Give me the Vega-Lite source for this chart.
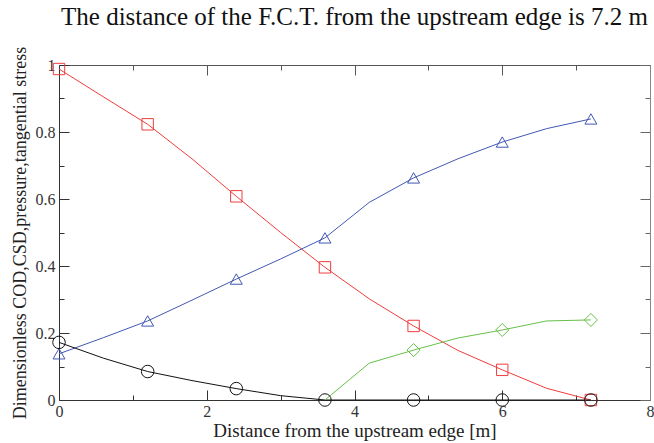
{
  "$schema": "https://vega.github.io/schema/vega-lite/v6.json",
  "autosize": "none",
  "width": 591,
  "height": 335,
  "padding": {"left": 59, "top": 65, "right": 4, "bottom": 43},
  "background": "white",
  "title": {
    "text": "The distance of the F.C.T. from the upstream edge is 7.2 m",
    "font": "Liberation Serif",
    "fontSize": 25,
    "fontWeight": "normal",
    "color": "#111",
    "anchor": "middle",
    "baseline": "alphabetic",
    "offset": -4
  },
  "config": {
    "view": {"stroke": null},
    "title": {"font": "Liberation Serif"},
    "axis": {
      "labelFont": "Liberation Serif",
      "titleFont": "Liberation Serif",
      "labelFontSize": 16,
      "titleFontWeight": "normal",
      "titleColor": "#222",
      "labelColor": "#333",
      "grid": false,
      "domainColor": "#333",
      "tickColor": "#333"
    }
  },
  "data": {
    "values": [
      {"s": "pressure", "x": 0.0, "y": 0.988, "m": 1},
      {"s": "pressure", "x": 0.6, "y": 0.905, "m": 0},
      {"s": "pressure", "x": 1.2, "y": 0.823, "m": 1},
      {"s": "pressure", "x": 1.8, "y": 0.72, "m": 0},
      {"s": "pressure", "x": 2.4, "y": 0.608, "m": 1},
      {"s": "pressure", "x": 3.0, "y": 0.5, "m": 0},
      {"s": "pressure", "x": 3.6, "y": 0.396, "m": 1},
      {"s": "pressure", "x": 4.2, "y": 0.302, "m": 0},
      {"s": "pressure", "x": 4.8, "y": 0.221, "m": 1},
      {"s": "pressure", "x": 5.4, "y": 0.148, "m": 0},
      {"s": "pressure", "x": 6.0, "y": 0.09, "m": 1},
      {"s": "pressure", "x": 6.6, "y": 0.035, "m": 0},
      {"s": "pressure", "x": 7.2, "y": 0.0, "m": 1},
      {"s": "stress", "x": 0.0, "y": 0.138, "m": 1},
      {"s": "stress", "x": 0.6, "y": 0.186, "m": 0},
      {"s": "stress", "x": 1.2, "y": 0.236, "m": 1},
      {"s": "stress", "x": 1.8, "y": 0.298, "m": 0},
      {"s": "stress", "x": 2.4, "y": 0.361, "m": 1},
      {"s": "stress", "x": 3.0, "y": 0.421, "m": 0},
      {"s": "stress", "x": 3.6, "y": 0.484, "m": 1},
      {"s": "stress", "x": 4.2, "y": 0.59, "m": 0},
      {"s": "stress", "x": 4.8, "y": 0.663, "m": 1},
      {"s": "stress", "x": 5.4, "y": 0.72, "m": 0},
      {"s": "stress", "x": 6.0, "y": 0.77, "m": 1},
      {"s": "stress", "x": 6.6, "y": 0.81, "m": 0},
      {"s": "stress", "x": 7.2, "y": 0.839, "m": 1},
      {"s": "COD", "x": 0.0, "y": 0.172, "m": 1},
      {"s": "COD", "x": 0.6, "y": 0.125, "m": 0},
      {"s": "COD", "x": 1.2, "y": 0.085, "m": 1},
      {"s": "COD", "x": 1.8, "y": 0.058, "m": 0},
      {"s": "COD", "x": 2.4, "y": 0.034, "m": 1},
      {"s": "COD", "x": 3.0, "y": 0.013, "m": 0},
      {"s": "COD", "x": 3.6, "y": 0.0, "m": 1},
      {"s": "COD", "x": 4.2, "y": 0.0, "m": 0},
      {"s": "COD", "x": 4.8, "y": 0.0, "m": 1},
      {"s": "COD", "x": 5.4, "y": 0.0, "m": 0},
      {"s": "COD", "x": 6.0, "y": 0.0, "m": 1},
      {"s": "COD", "x": 6.6, "y": 0.0, "m": 0},
      {"s": "COD", "x": 7.2, "y": 0.0, "m": 1},
      {"s": "CSD", "x": 3.6, "y": 0.0, "m": 0},
      {"s": "CSD", "x": 4.2, "y": 0.11, "m": 0},
      {"s": "CSD", "x": 4.8, "y": 0.149, "m": 1},
      {"s": "CSD", "x": 5.4, "y": 0.185, "m": 0},
      {"s": "CSD", "x": 6.0, "y": 0.209, "m": 1},
      {"s": "CSD", "x": 6.6, "y": 0.236, "m": 0},
      {"s": "CSD", "x": 7.2, "y": 0.239, "m": 1}
    ]
  },
  "layer": [
    {
      "mark": {"type": "line", "strokeWidth": 1, "clip": false},
      "encoding": {
        "x": {
          "field": "x", "type": "quantitative",
          "scale": {"domain": [0, 8], "nice": false, "zero": false},
          "axis": {
            "orient": "bottom",
            "title": "Distance from the upstream edge [m]",
            "titleFontSize": 19,
            "titlePadding": -3,
            "values": [0, 1, 2, 3, 4, 5, 6, 7, 8],
            "labelExpr": "datum.value % 2 === 0 ? toString(datum.value) : ''",
            "tickSize": {"condition": {"test": "datum.value % 2 === 0", "value": -10}, "value": -5},
            "labelPadding": 13,
            "labelFlush": false,
            "labelOverlap": false
          }
        },
        "y": {
          "field": "y", "type": "quantitative",
          "scale": {"domain": [0, 1], "nice": false},
          "axis": {
            "orient": "left",
            "title": "Dimensionless COD,CSD,pressure,tangential stress",
            "titleFontSize": 18,
            "titlePadding": 6,
            "values": [0, 0.1, 0.2, 0.3, 0.4, 0.5, 0.6, 0.7, 0.8, 0.9, 1],
            "labelExpr": "round(datum.value * 10) % 2 === 0 ? toString(round(datum.value * 10) / 10) : ''",
            "tickSize": {"condition": {"test": "round(datum.value * 10) % 2 === 0", "value": -10}, "value": -5},
            "labelPadding": 14,
            "labelFlush": false,
            "labelOverlap": false
          }
        },
        "color": {
          "field": "s", "type": "nominal",
          "scale": {"domain": ["pressure", "stress", "COD", "CSD"], "range": ["#f03c3c", "#4258b4", "#111111", "#66c048"]},
          "legend": null
        },
        "detail": {"field": "s"},
        "order": {"field": "x"}
      }
    },
    {
      "transform": [{"filter": "datum.m === 1"}],
      "mark": {"type": "point", "filled": false, "strokeWidth": 1, "clip": false, "opacity": 1},
      "encoding": {
        "x": {
          "field": "x", "type": "quantitative",
          "axis": {
            "orient": "top", "title": null, "labels": false,
            "values": [0, 1, 2, 3, 4, 5, 6, 7, 8],
            "tickSize": {"condition": {"test": "datum.value % 2 === 0", "value": -10}, "value": -5},
            "domainColor": "#555", "tickColor": "#555"
          }
        },
        "y": {
          "field": "y", "type": "quantitative",
          "axis": {
            "orient": "right", "title": null, "labels": false,
            "values": [0, 0.1, 0.2, 0.3, 0.4, 0.5, 0.6, 0.7, 0.8, 0.9, 1],
            "tickSize": {"condition": {"test": "round(datum.value * 10) % 2 === 0", "value": -10}, "value": -5},
            "domainColor": "#888", "tickColor": "#666"
          }
        },
        "color": {"field": "s", "type": "nominal", "legend": null},
        "shape": {
          "field": "s", "type": "nominal",
          "scale": {"domain": ["pressure", "stress", "COD", "CSD"], "range": ["square", "triangle-up", "circle", "diamond"]},
          "legend": null
        },
        "size": {
          "field": "s", "type": "nominal",
          "scale": {"domain": ["pressure", "stress", "COD", "CSD"], "range": [130, 170, 113, 150]},
          "legend": null
        }
      }
    }
  ],
  "resolve": {"axis": {"x": "independent", "y": "independent"}}
}
